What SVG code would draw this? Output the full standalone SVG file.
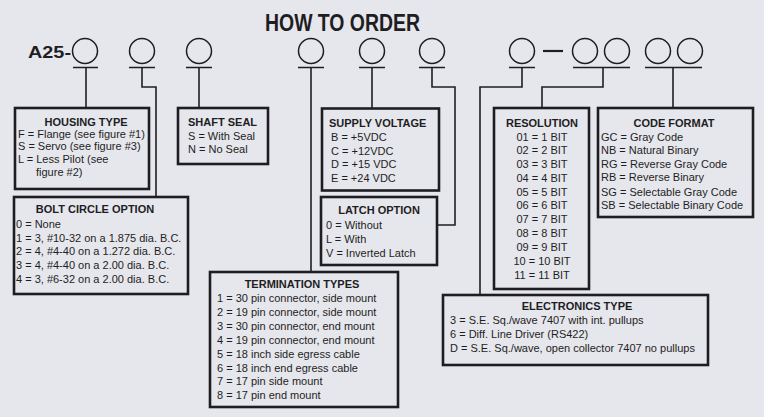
<svg xmlns="http://www.w3.org/2000/svg" width="764" height="417" viewBox="0 0 764 417">
<style>
text{font-family:"Liberation Sans",Arial,sans-serif;fill:#1e1e22}
.t{font-weight:bold;font-size:11px}
.b{font-size:11px}
.c{text-anchor:middle}
.box{fill:none;stroke:#1e1e22;stroke-width:2.6}
.ck{fill:none;stroke:#1e1e22;stroke-width:1.5}
.ln{fill:none;stroke:#1e1e22;stroke-width:1.6}
</style>
<rect width="764" height="417" fill="#e6e6ed"/>
<text x="265" y="31" font-size="24" font-weight="bold" textLength="155" lengthAdjust="spacingAndGlyphs">HOW TO ORDER</text>
<text x="28" y="58" font-size="17" font-weight="bold" textLength="43" lengthAdjust="spacingAndGlyphs">A25-</text>
<g id="code-slots">
<circle class="ck" cx="85" cy="51" r="12.5"/>
<circle class="ck" cx="142" cy="51" r="12.5"/>
<circle class="ck" cx="199" cy="51" r="12.5"/>
<circle class="ck" cx="311" cy="51" r="12.5"/>
<circle class="ck" cx="372" cy="51" r="12.5"/>
<circle class="ck" cx="432" cy="51" r="12.5"/>
<circle class="ck" cx="522" cy="51" r="12.5"/>
<circle class="ck" cx="585" cy="51" r="12.5"/>
<circle class="ck" cx="617" cy="51" r="12.5"/>
<circle class="ck" cx="658" cy="51" r="12.5"/>
<circle class="ck" cx="690" cy="51" r="12.5"/>
<line x1="543" y1="51" x2="563" y2="51" stroke="#1e1e22" stroke-width="2.2"/>
</g>
<g id="connectors">
<path class="ln" d="M73 67.5H98 M129 67.5H155 M186 67.5H212 M298 67.5H324 M359 67.5H385 M419 67.5H445 M509 67.5H535 M573 67.5H630 M645 67.5H702"/>
<path class="ln" d="M86 67.5V108"/>
<path class="ln" d="M142 67.5V87H156V197"/>
<path class="ln" d="M199 67.5V108"/>
<path class="ln" d="M311 67.5V272"/>
<path class="ln" d="M372 67.5V108"/>
<path class="ln" d="M432 67.5V87H455V225H438"/>
<path class="ln" d="M522 67.5V87H480V295"/>
<path class="ln" d="M603 67.5V87H542V108"/>
<path class="ln" d="M673 67.5V108"/>
</g>
<g id="housing-type">
<rect class="box" x="15" y="108" width="134" height="81"/>
<text class="t c" x="86" y="126">HOUSING TYPE</text>
<text class="b" x="18" y="138">F = Flange (see figure #1)</text>
<text class="b" x="18" y="150">S = Servo (see figure #3)</text>
<text class="b" x="18" y="163">L = Less Pilot (see</text>
<text class="b" x="36" y="176">figure #2)</text>
</g>
<g id="shaft-seal">
<rect class="box" x="178" y="108" width="90" height="56"/>
<text class="t" x="188" y="126">SHAFT SEAL</text>
<text class="b" x="188" y="140">S = With Seal</text>
<text class="b" x="188" y="153">N = No Seal</text>
</g>
<g id="bolt-circle-option">
<rect class="box" x="14" y="197" width="174" height="97"/>
<text class="t c" x="95" y="213">BOLT CIRCLE OPTION</text>
<text class="b" x="16" y="228">0 = None</text>
<text class="b" x="16" y="242">1 = 3, #10-32 on a 1.875 dia. B.C.</text>
<text class="b" x="16" y="255">2 = 4, #4-40 on a 1.272 dia. B.C.</text>
<text class="b" x="16" y="269">3 = 4, #4-40 on a 2.00 dia. B.C.</text>
<text class="b" x="16" y="283">4 = 3, #6-32 on a 2.00 dia. B.C.</text>
</g>
<g id="supply-voltage">
<rect class="box" x="322" y="108.5" width="117" height="82"/>
<text class="t" x="329" y="127">SUPPLY VOLTAGE</text>
<text class="b" x="331" y="141">B = +5VDC</text>
<text class="b" x="331" y="155">C = +12VDC</text>
<text class="b" x="331" y="168">D = +15 VDC</text>
<text class="b" x="331" y="182">E = +24 VDC</text>
</g>
<g id="latch-option">
<rect class="box" x="321" y="197" width="116" height="68"/>
<text class="t c" x="379" y="214">LATCH OPTION</text>
<text class="b" x="326" y="229">0 = Without</text>
<text class="b" x="326" y="243">L = With</text>
<text class="b" x="326" y="257">V = Inverted Latch</text>
</g>
<g id="termination-types">
<rect class="box" x="210" y="272" width="188" height="135"/>
<text class="t c" x="302" y="288">TERMINATION TYPES</text>
<text class="b" x="217" y="302">1 = 30 pin connector, side mount</text>
<text class="b" x="217" y="316">2 = 19 pin connector, side mount</text>
<text class="b" x="217" y="330">3 = 30 pin connector, end mount</text>
<text class="b" x="217" y="344">4 = 19 pin connector, end mount</text>
<text class="b" x="217" y="358">5 = 18 inch side egress cable</text>
<text class="b" x="217" y="372">6 = 18 inch end egress cable</text>
<text class="b" x="217" y="385">7 = 17 pin side mount</text>
<text class="b" x="217" y="399">8 = 17 pin end mount</text>
</g>
<g id="resolution">
<rect class="box" x="494" y="108" width="95" height="181"/>
<text class="t c" x="542" y="127">RESOLUTION</text>
<text class="b c" x="542" y="141">01 = 1 BIT</text>
<text class="b c" x="542" y="154">02 = 2 BIT</text>
<text class="b c" x="542" y="168">03 = 3 BIT</text>
<text class="b c" x="542" y="182">04 = 4 BIT</text>
<text class="b c" x="542" y="196">05 = 5 BIT</text>
<text class="b c" x="542" y="209">06 = 6 BIT</text>
<text class="b c" x="542" y="223">07 = 7 BIT</text>
<text class="b c" x="542" y="237">08 = 8 BIT</text>
<text class="b c" x="542" y="251">09 = 9 BIT</text>
<text class="b c" x="542" y="265">10 = 10 BIT</text>
<text class="b c" x="542" y="279">11 = 11 BIT</text>
</g>
<g id="code-format">
<rect class="box" x="598" y="108" width="155" height="109"/>
<text class="t c" x="674" y="127">CODE FORMAT</text>
<text class="b" x="601" y="141">GC = Gray Code</text>
<text class="b" x="601" y="154">NB = Natural Binary</text>
<text class="b" x="601" y="168">RG = Reverse Gray Code</text>
<text class="b" x="601" y="181">RB = Reverse Binary</text>
<text class="b" x="601" y="196">SG = Selectable Gray Code</text>
<text class="b" x="601" y="209">SB = Selectable Binary Code</text>
</g>
<g id="electronics-type">
<rect class="box" x="443" y="295" width="265" height="70"/>
<text class="t c" x="577" y="310">ELECTRONICS TYPE</text>
<text class="b" x="450" y="324">3 = S.E. Sq./wave 7407 with int. pullups</text>
<text class="b" x="450" y="338">6 = Diff. Line Driver (RS422)</text>
<text class="b" x="450" y="352">D = S.E. Sq./wave, open collector 7407 no pullups</text>
</g>
</svg>
